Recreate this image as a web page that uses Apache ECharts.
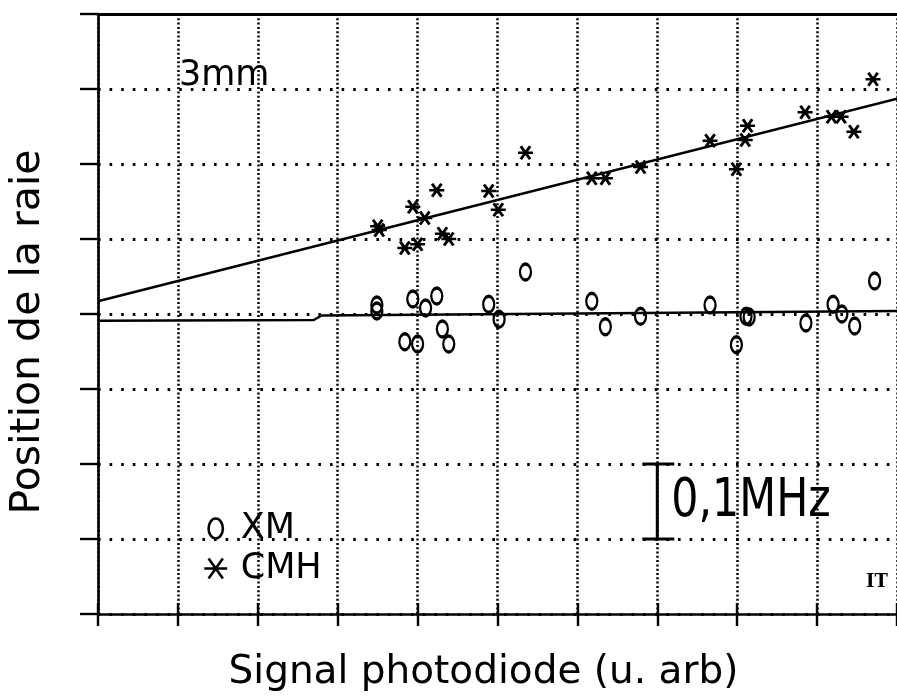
<!DOCTYPE html>
<html>
<head>
<meta charset="utf-8">
<script src="https://cdn.jsdelivr.net/npm/echarts@6/dist/echarts.min.js"></script>
<style>
  html, body { margin: 0; padding: 0; background: #fff; }
  #chart { width: 897px; height: 700px; }
</style>
</head>
<body>
<div id="chart"></div>
<script>
// Line position (MHz) against photodiode signal (arbitrary units), 3 mm cell.

// XM measurements
const xmSignal = [3.49, 3.49, 3.94, 4.10, 4.24, 3.84, 4.00, 4.31, 4.39, 4.89, 5.02, 5.35,
                  6.18, 6.35, 6.79, 7.66, 8.11, 8.15, 7.99, 8.86, 9.20, 9.31, 9.47, 9.72];
const xmPos    = [0.412, 0.404, 0.420, 0.408, 0.424, 0.363, 0.360, 0.380, 0.360, 0.413, 0.393, 0.456,
                  0.417, 0.383, 0.397, 0.412, 0.397, 0.396, 0.359, 0.388, 0.413, 0.400, 0.384, 0.444];

// CMH measurements
const cmhSignal = [3.50, 3.52, 3.94, 4.24, 4.09, 3.84, 4.00, 4.31, 4.39, 4.89, 5.01, 5.35,
                   6.18, 6.35, 6.79, 7.66, 8.13, 8.10, 7.99, 8.85, 9.18, 9.30, 9.46, 9.70];
const cmhPos    = [0.517, 0.512, 0.543, 0.565, 0.528, 0.488, 0.493, 0.507, 0.500, 0.564, 0.539, 0.615,
                   0.581, 0.581, 0.596, 0.631, 0.651, 0.632, 0.593, 0.669, 0.663, 0.663, 0.643, 0.713];

// Fitted curves
const xmFitSignal  = [0, 2.7, 2.8, 10];
const xmFitPos     = [0.391, 0.392, 0.398, 0.404];
const cmhFitSignal = [0, 10];
const cmhFitPos    = [0.417, 0.687];

// Frequency scale bar: [signal, from, to]
const scaleBar = [[7, 0.1, 0.2]];
const scaleLabel = '0,1MHz';

// Axis extents
const xMin = 0, xMax = 10, xStep = 1;
const yMin = 0, yMax = 0.8, yStep = 0.1;

const pairs = (xs, ys) => xs.map((x, i) => [x, ys[i]]);

const ovalPath = 'path://M5,0 C7.76,0 10,3.13 10,7 C10,10.87 7.76,14 5,14 C2.24,14 0,10.87 0,7 C0,3.13 2.24,0 5,0 Z';
const starPath = 'path://M0,7 L16,7 M3,0 L13,14 M13,0 L3,14';

const ink = '#000';
const hollow = { color: 'rgba(0,0,0,0)', borderColor: ink, borderWidth: 2.7, opacity: 1 };

const chart = echarts.init(document.getElementById('chart'), null, { renderer: 'canvas' });

chart.setOption({
  backgroundColor: '#fff',
  animation: false,
  grid: { left: 97, top: 14, width: 809, height: 600 },
  legend: {
    orient: 'vertical',
    left: 198,
    top: 506,
    itemWidth: 40,
    itemHeight: 20,
    itemGap: 5,
    selectedMode: false,
    itemStyle: { color: 'rgba(0,0,0,0)', borderColor: ink, borderWidth: 2.6, opacity: 1 },
    textStyle: { fontFamily: 'DejaVu Sans', fontSize: 35, lineHeight: 34, color: ink },
    data: [
      { name: 'XM', icon: ovalPath },
      { name: 'CMH', icon: starPath }
    ]
  },
  xAxis: [
    {
      type: 'value', min: xMin, max: xMax, interval: xStep,
      position: 'bottom',
      name: 'Signal photodiode (u. arb)',
      nameLocation: 'middle',
      nameGap: 39,
      nameTextStyle: { fontFamily: 'DejaVu Sans', fontSize: 39, color: ink, padding: [0, 28, 0, 0] },
      axisLine: { show: true, lineStyle: { color: ink, width: 2.6 } },
      axisTick: { show: true, inside: false, length: 12, lineStyle: { color: ink, width: 2.4 } },
      axisLabel: { show: false },
      splitLine: { show: true, lineStyle: { color: ink, width: 2.5, type: [2, 2.3] } }
    },
    {
      type: 'value', min: xMin, max: xMax, interval: xStep,
      position: 'top',
      axisLine: { show: true, lineStyle: { color: ink, width: 3 } },
      axisTick: { show: false },
      axisLabel: { show: false },
      splitLine: { show: false }
    },
    {
      type: 'value', min: xMin, max: xMax, interval: xStep,
      position: 'bottom',
      axisLine: { show: false },
      axisTick: { show: true, inside: true, length: 11, lineStyle: { color: ink, width: 2.4 } },
      axisLabel: { show: false },
      splitLine: { show: false }
    }
  ],
  yAxis: [
    {
      type: 'value', min: yMin, max: yMax, interval: yStep,
      position: 'left',
      name: 'Position de la raie',
      nameLocation: 'middle',
      nameGap: 49,
      nameTextStyle: { fontFamily: 'DejaVu Sans', fontSize: 41, color: ink, padding: [0, 36, 0, 0] },
      axisLine: { show: true, lineStyle: { color: ink, width: 2.6 } },
      axisTick: { show: true, inside: false, length: 18, lineStyle: { color: ink, width: 2.4 } },
      axisLabel: { show: false },
      splitLine: { show: true, lineStyle: { color: ink, width: 2.8, type: [2.6, 9] } }
    }
  ],
  graphic: [
    {
      type: 'text', left: 179, top: 58, z: 10,
      style: { text: '3mm', font: '35px "DejaVu Sans"', fill: ink }
    },
    {
      type: 'text', left: 866, top: 573, z: 10,
      style: { text: 'IT', font: 'bold 18px "DejaVu Serif"', fill: ink }
    }
  ],
  series: [
    {
      name: 'XM fit', type: 'line', xAxisIndex: 0, yAxisIndex: 0,
      data: pairs(xmFitSignal, xmFitPos),
      showSymbol: false, symbol: 'none', silent: true,
      lineStyle: { color: ink, width: 2.5 }, z: 3
    },
    {
      name: 'CMH fit', type: 'line', xAxisIndex: 0, yAxisIndex: 0,
      data: pairs(cmhFitSignal, cmhFitPos),
      showSymbol: false, symbol: 'none', silent: true,
      lineStyle: { color: ink, width: 2.5 }, z: 3
    },
    {
      name: 'XM', type: 'scatter', xAxisIndex: 0, yAxisIndex: 0,
      data: pairs(xmSignal, xmPos),
      symbol: ovalPath, symbolSize: [11, 16],
      itemStyle: hollow, z: 4
    },
    {
      name: 'CMH', type: 'scatter', xAxisIndex: 0, yAxisIndex: 0,
      data: pairs(cmhSignal, cmhPos),
      symbol: starPath, symbolSize: [15, 13],
      itemStyle: hollow, z: 4
    },
    {
      name: 'scale', type: 'custom', xAxisIndex: 0, yAxisIndex: 0,
      data: scaleBar, silent: true, z: 5,
      renderItem: function (params, api) {
        const lo = api.coord([api.value(0), api.value(1)]);
        const hi = api.coord([api.value(0), api.value(2)]);
        const x = lo[0];
        const stroke = { stroke: ink, lineWidth: 3 };
        return {
          type: 'group',
          children: [
            { type: 'line', shape: { x1: x, y1: lo[1], x2: x, y2: hi[1] }, style: stroke },
            { type: 'line', shape: { x1: x - 15, y1: lo[1], x2: x + 17, y2: lo[1] }, style: stroke },
            { type: 'line', shape: { x1: x - 15, y1: hi[1], x2: x + 17, y2: hi[1] }, style: stroke },
            {
              type: 'text',
              x: x + 14, y: (lo[1] + hi[1]) / 2,
              scaleX: 0.88,
              style: {
                text: scaleLabel,
                font: '54px "Liberation Sans Narrow", "DejaVu Sans Condensed", "DejaVu Sans"',
                fill: ink, verticalAlign: 'middle', align: 'left'
              }
            }
          ]
        };
      }
    }
  ]
});
</script>
</body>
</html>
